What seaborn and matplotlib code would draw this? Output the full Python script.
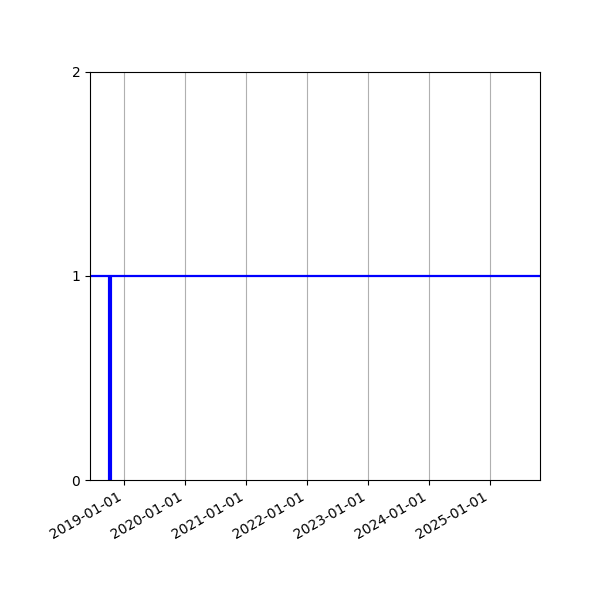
import matplotlib
matplotlib.use("Agg")
import matplotlib.pyplot as plt
import matplotlib.dates as mdates
import seaborn as sns
import pandas as pd

# Data
event_dates = ["2018-10-12", "2018-10-12"]
event_values = [0, 1]
baseline_level = 1
x_start = "2018-06-14"
x_end = "2025-10-27"
y_ticks = [0, 1, 2]

df = pd.DataFrame({"date": pd.to_datetime(event_dates), "value": event_values})

fig = plt.figure(figsize=(6, 6), dpi=100)
ax = fig.add_axes([0.15, 0.2, 0.75, 0.68])

sns.lineplot(data=df, x="date", y="value", estimator=None, sort=False,
             color="blue", linewidth=3.0, solid_capstyle="butt", ax=ax)
ax.axhline(baseline_level, color="blue", linewidth=1.6)

ax.set_xlim(pd.Timestamp(x_start), pd.Timestamp(x_end))
ax.set_ylim(min(y_ticks), max(y_ticks))
ax.set_yticks(y_ticks)
ax.xaxis.set_major_locator(mdates.YearLocator())
ax.xaxis.set_major_formatter(mdates.DateFormatter("%Y-%m-%d"))
ax.grid(axis="x", color="#b0b0b0", linewidth=0.8)
ax.set_axisbelow(True)
ax.set_xlabel("")
ax.set_ylabel("")
for lbl in ax.get_xticklabels():
    lbl.set_rotation(30)
    lbl.set_ha("right")

fig.savefig("out.png", dpi=100)
